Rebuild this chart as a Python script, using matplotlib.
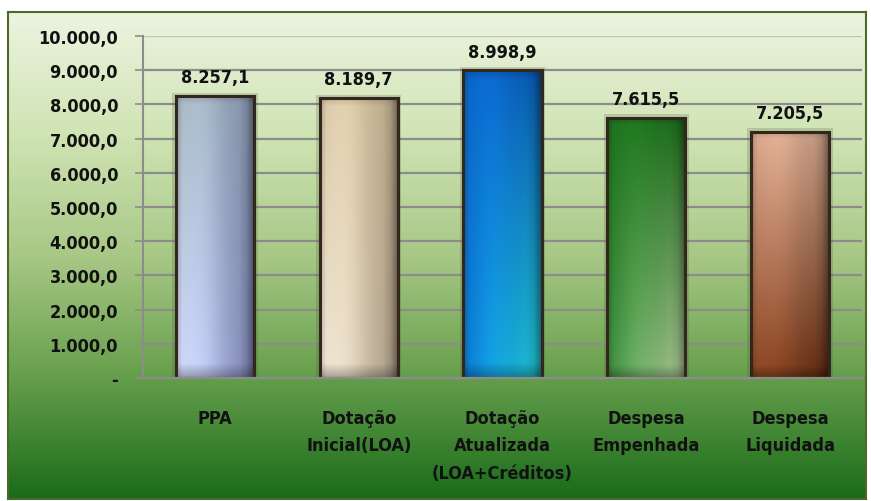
import numpy as np
import matplotlib
matplotlib.use("Agg")
import matplotlib.pyplot as plt
from matplotlib import font_manager
from matplotlib.colors import to_rgb, LinearSegmentedColormap
from matplotlib.patches import Rectangle

categories = ["PPA", "Dotação\nInicial(LOA)", "Dotação\nAtualizada\n(LOA+Créditos)",
              "Despesa\nEmpenhada", "Despesa\nLiquidada"]
values = [8257.1, 8189.7, 8998.9, 7615.5, 7205.5]
yticks = [0, 1000, 2000, 3000, 4000, 5000, 6000, 7000, 8000, 9000, 10000]

# corner colors: top-left, top-right, bottom-left, bottom-right
bar_corners = [
    ("#a8b8c0", "#8090a8", "#d0dafa", "#7880b0"),
    ("#d8c8a8", "#b8a888", "#ece4d4", "#a89880"),
    ("#0a64c4", "#0a58b0", "#0a78d0", "#20c8d0"),
    ("#1e6e1e", "#1a6a1a", "#3c8c3c", "#b0c898"),
    ("#d8a890", "#c09880", "#8a4420", "#5a2810"),
]

def fmt(v):
    if v == 0:
        return "-"
    s = f"{v:,.1f}"
    return s.replace(",", "X").replace(".", ",").replace("X", ".")

cond = [f.fname for f in font_manager.fontManager.ttflist
        if "DejaVuSansCondensed-Bold.ttf" in f.fname]
if cond:
    FP = dict(fontproperties=font_manager.FontProperties(fname=cond[0]))
else:
    FP = dict(family="DejaVu Sans", fontweight="bold")

W, H = 871, 502
fig = plt.figure(figsize=(W / 100, H / 100), dpi=100)
fig.patch.set_facecolor("white")

bg = fig.add_axes([8 / W, 2 / H, 858 / W, 487 / H])
bg_cmap = LinearSegmentedColormap.from_list(
    "bg", [(0.0, "#ecf4e0"), (0.25, "#d0e4b4"), (0.5, "#a8c886"),
           (0.72, "#6ea452"), (1.0, "#1a6c1a")])
grad = np.linspace(0, 1, 256).reshape(-1, 1)
bg.imshow(grad, aspect="auto", cmap=bg_cmap, extent=(0, 1, 0, 1), origin="upper")
bg.set_xlim(0, 1); bg.set_ylim(0, 1)
bg.set_xticks([]); bg.set_yticks([])
for s in bg.spines.values():
    s.set_color("#4e6a2a"); s.set_linewidth(1.5)

left, right, top, bottom = 143, 862, 37, 379
ax = fig.add_axes([left / W, 1 - bottom / H, (right - left) / W, (bottom - top) / H])
ax.patch.set_alpha(0)
x = np.arange(len(categories))

for yv in yticks[1:]:
    ax.axhline(yv, color="#8c8c8c" if yv < 10000 else "#c0c4b8", lw=1.6, zorder=1)

bw = 0.545
bars = ax.bar(x, values, width=bw, facecolor="none", edgecolor="#33261c", lw=2.2, zorder=4)

def bar_image(corners, n=300, m=80):
    tl, tr, bl, br = [np.array(to_rgb(c)) for c in corners]
    u = np.linspace(0, 1, m)[None, :, None]
    v = np.linspace(0, 1, n)[:, None, None]
    top_row = tl * (1 - u) + tr * u
    bot_row = bl * (1 - u) + br * u
    img = top_row * (1 - v) + bot_row * v
    shade = 1.0 + 0.10 * np.exp(-((u - 0.35) / 0.25) ** 2) - 0.22 * np.clip((u - 0.8) / 0.2, 0, 1)
    img = img * shade
    uu = np.linspace(0, 1, m)[None, :]
    vv = np.linspace(0, 1, n)[:, None]
    bevel = np.ones((n, m))
    bevel *= 1 - 0.18 * np.clip((0.08 - uu) / 0.08, 0, 1)
    bevel *= 1 - 0.25 * np.clip((uu - 0.90) / 0.10, 0, 1)
    bevel *= 1 - 0.15 * np.clip((0.03 - vv) / 0.03, 0, 1)
    bevel *= 1 - 0.30 * np.clip((vv - 0.95) / 0.05, 0, 1)
    img = img * bevel[:, :, None]
    return np.clip(img, 0, 1)

for xi, v, b, corners in zip(x, values, bars, bar_corners):
    ax.add_patch(Rectangle((xi - bw / 2 - 0.025, 0), bw + 0.05, v + 90,
                           facecolor="#4a5a3a", alpha=0.22, lw=0, zorder=2))
    im = ax.imshow(bar_image(corners), extent=(xi - bw / 2, xi + bw / 2, 0, v),
                   aspect="auto", origin="upper", zorder=3, interpolation="bilinear")
    im.set_clip_path(b)
    t = ax.text(xi, v + 280, fmt(v), ha="center", va="bottom", color="#111111", zorder=5, **FP)
    t.set_fontsize(13)

ax.set_xlim(-0.5, len(categories) - 0.5)
ax.set_ylim(0, 10000)
ax.set_yticks(yticks)
ax.set_yticklabels([fmt(t) for t in yticks], color="#111111", **FP)
for lab in ax.get_yticklabels():
    lab.set_fontsize(13)
ax.tick_params(axis="y", length=6, color="#8c8c8c", width=1.2, pad=12)
ax.set_xticks(x)
ax.set_xticklabels(categories, color="#111111", linespacing=1.7, va="top", **FP)
for lab in ax.get_xticklabels():
    lab.set_fontsize(13)
ax.tick_params(axis="x", length=0, pad=22)

for side in ["top", "right"]:
    ax.spines[side].set_visible(False)
ax.spines["left"].set_color("#8c8c8c"); ax.spines["left"].set_linewidth(1.5)
ax.spines["bottom"].set_color("#8c8c8c"); ax.spines["bottom"].set_linewidth(1.6)
ax.spines["bottom"].set_zorder(6)

fig.savefig("out.png", dpi=100)
